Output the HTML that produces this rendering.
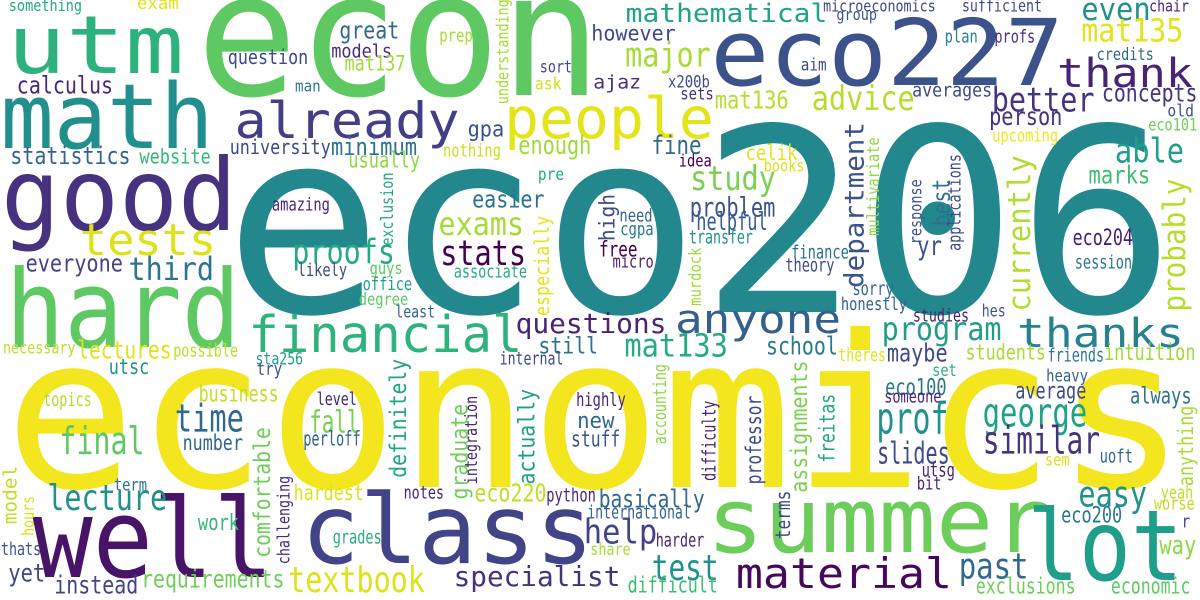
<!DOCTYPE html>
<html><head><meta charset="utf-8"><style>
html,body{margin:0;padding:0;background:#fff;}
svg{display:block;}
text{font-family:"DejaVu Sans Mono","Liberation Mono",monospace;}
</style></head><body>
<svg id="cloud" width="1200" height="600" viewBox="0 0 1200 600" xmlns="http://www.w3.org/2000/svg">
<rect width="1200" height="600" fill="#ffffff"/>
</svg>
<script>
// Big words, full coordinates: [text, x1, x2, baseline, fontSize, color]
const bigWords = [
["eco206",237,1163,312,256,"#22888d"],
["economics",15,1176,487,212,"#f4e61e"],
["econ",205,593,95,172,"#5ec962"],
["utm",11,180,73,80,"#2db27d"],
["math",5,209,148,90,"#21908d"],
["good",6,232,230,100,"#46327e"],
["already",237,457,138,50,"#433e85"],
["people",507,711,138,57,"#e5e419"],
["tests",82,214,255,44,"#dde318"],
["hard",11,235,347,108,"#5ec962"],
["financial",251,520,352,51,"#2eb37c"],
["questions",517,665,333,28,"#482475"],
["anyone",677,839,333,40,"#355f8d"],
["thanks",1019,1182,347,40,"#26828e"],
["thank",1059,1191,87,40,"#482475"],
["eco227",715,1059,85,92,"#3b528b"],
["mathematical",627,826,22,26,"#20a386"],
["well",38,268,577,110,"#481467"],
["class",306,589,563,96,"#414487"],
["summer",711,1046,552,90,"#6ccd5a"],
["lot",1032,1178,580,98,"#1f9e89"],
["material",738,950,588,42,"#46085c"],
["textbook",290,423,592,36,"#dde318"],
["specialist",455,619,586,28,"#46337f"]
];
// Horizontal words in zoom-quadrant units: [text, quadrant, zx1, zx2, zyBaseline, fontSize, color]
const smallWords = [
["something",0,25,212,33,16,"#23a983"],["exam",0,360,465,27,17,"#e2e418"],["great",0,890,1040,115,24,"#31688e"],
["models",0,868,1022,172,19,"#472c7a"],["question",0,598,803,192,20,"#3e4989"],["mat137",0,903,1057,212,21,"#a2da37"],
["prep",0,1150,1233,125,18,"#a8db34"],["sort",0,1413,1493,218,17,"#3e4a89"],["ask",0,1400,1465,268,17,"#d2e21b"],
["man",0,773,836,275,16,"#2a788e"],["calculus",0,47,292,280,24,"#482878"],["gpa",0,1225,1315,410,22,"#3b528b"],
["university",0,603,862,462,20,"#3e4a89"],["minimum",0,868,1087,465,24,"#2c718e"],["enough",0,1358,1542,462,26,"#a0da39"],
["nothing",0,1160,1307,470,18,"#c8e020"],["statistics",0,30,338,492,24,"#33638d"],["website",0,367,548,490,20,"#35b779"],
["usually",0,913,1095,503,22,"#8fd744"],["pre",0,1408,1472,540,17,"#22a884"],["amazing",0,713,860,632,18,"#482576"],
["easier",0,1237,1420,622,24,"#2c728e"],["exams",0,1150,1365,705,32,"#a5db36"],["proofs",0,768,1028,790,34,"#25ab82"],
["stats",0,1155,1370,795,35,"#440154"],["everyone",0,70,318,815,24,"#414487"],["third",0,340,555,840,32,"#2b748e"],
["likely",0,780,905,828,18,"#3e4989"],["guys",0,968,1050,822,17,"#5cc863"],["associate",0,1188,1375,832,18,"#27ad81"],
["office",0,950,1075,870,18,"#1f9f88"],
["microeconomics",1,585,875,35,16,"#3e4989"],["group",1,620,722,60,16,"#3b528b"],["sufficient",1,948,1153,35,17,"#3e4989"],
["even",1,1262,1435,60,31,"#20928c"],["chair",1,1437,1537,35,16,"#482475"],["however",1,-20,195,122,21,"#3e4989"],
["mat135",1,1262,1520,125,32,"#e2e418"],["plan",1,903,985,128,18,"#277f8e"],["profs",1,1033,1135,128,18,"#46307e"],
["major",1,70,285,200,34,"#a8db34"],["credits",1,1300,1445,180,17,"#33638d"],["aim",1,527,590,212,17,"#3e4989"],
["ajaz",1,-15,105,265,19,"#472d7b"],["x200b",1,180,285,262,17,"#3e4989"],["sets",1,212,295,298,17,"#472d7b"],
["averages",1,818,1022,290,19,"#3e4989"],["mat136",1,303,490,325,25,"#b5de2b"],["advice",1,558,818,330,34,"#b5de2b"],
["better",1,1028,1288,335,34,"#46337f"],["concepts",1,1315,1558,305,25,"#46337f"],["old",1,1485,1550,350,17,"#3b528b"],
["person",1,1020,1205,375,25,"#46337f"],["eco101",1,1435,1558,392,17,"#6ccd5a"],["upcoming",1,1027,1195,425,18,"#f4e61e"],
["fine",1,138,262,462,26,"#31688e"],["celik",1,383,513,480,21,"#e5e419"],["idea",1,208,290,500,17,"#440154"],
["books",1,430,532,515,17,"#dde318"],["study",1,240,455,570,34,"#7ad151"],["able",1,1350,1522,487,34,"#1f9e89"],
["marks",1,1280,1435,550,25,"#3dbc74"],["need",1,53,135,665,18,"#31688e"],["cgpa",1,55,138,705,18,"#2a788e"],
["free",1,0,95,770,21,"#440154"],["micro",1,35,138,802,18,"#482475"],["problem",1,238,455,650,27,"#3b528b"],
["helpful",1,255,435,690,25,"#365c8d"],["transfer",1,235,397,730,19,"#21918c"],["yr",1,832,890,765,27,"#3b528b"],
["finance",1,502,648,775,19,"#2c728e"],["theory",1,487,610,815,19,"#3e4989"],["sorry",1,662,765,885,19,"#31688e"],
["eco204",1,1238,1390,735,22,"#481f70"],["session",1,1243,1388,805,19,"#2a788e"],
["least",2,1035,1135,52,17,"#33638d"],["still",2,1410,1560,160,23,"#2c728e"],["necessary",2,10,195,160,17,"#bddf26"],
["lectures",2,205,445,175,25,"#dfe318"],["possible",2,455,620,170,18,"#bddf26"],["sta256",2,670,790,193,17,"#1f9e89"],
["internal",2,1308,1470,193,18,"#3e4989"],["utsc",2,287,387,222,21,"#21918c"],["try",2,673,735,225,18,"#3b528b"],
["topics",2,115,237,318,19,"#b5de2b"],["business",2,522,725,305,23,"#c2df23"],["level",2,830,930,315,18,"#482475"],
["time",2,462,632,395,38,"#31688e"],["fall",2,812,935,398,31,"#7ad151"],["final",2,160,373,462,38,"#5ec962"],
["number",2,480,632,450,21,"#33638d"],["perloff",2,795,940,437,20,"#33638d"],["term",2,300,382,572,17,"#2c728e"],
["lecture",2,128,432,630,36,"#21918c"],["hardest",2,770,948,600,21,"#dde318"],["notes",2,1057,1158,595,18,"#482475"],
["eco220",2,1243,1425,605,25,"#bddf26"],["python",2,1430,1555,605,19,"#482475"],["work",2,520,622,690,22,"#35b779"],
["grades",2,872,995,730,19,"#27ad81"],["thats",2,5,105,765,18,"#3b528b"],["yet",2,25,115,845,25,"#414487"],
["instead",2,145,358,880,25,"#414487"],["requirements",2,372,740,862,25,"#6ece58"],["degree",2,940,1065,15,17,"#5ec962"],
["honestly",3,632,800,30,18,"#33638d"],["hes",3,1000,1058,50,17,"#3b528b"],["studies",3,820,962,65,18,"#482475"],
["program",3,740,1045,120,32,"#1f9e89"],["mat133",3,68,330,170,32,"#25ab82"],["school",3,437,618,163,25,"#2a788e"],
["theres",3,625,745,183,18,"#e2e418"],["maybe",3,753,905,185,25,"#3e4989"],["students",3,958,1163,178,21,"#a8db34"],
["friends",3,1172,1315,185,19,"#2a788e"],["intuition",3,1320,1553,180,23,"#a0da39"],["set",3,870,930,228,17,"#2ab07f"],
["heavy",3,1168,1273,245,17,"#33638d"],["eco100",3,748,903,285,23,"#2a788e"],["someone",3,745,890,308,18,"#482475"],
["average",3,1088,1268,295,23,"#3e4989"],["always",3,1388,1543,310,23,"#2c728e"],["prof",3,728,905,400,44,"#21918c"],
["george",3,1005,1268,380,40,"#1fa187"],["similar",3,1005,1302,460,38,"#46337f"],["highly",3,-60,65,318,19,"#482475"],
["new",3,-57,35,384,22,"#31688e"],["stuff",3,-73,50,440,22,"#3b528b"],["slides",3,728,910,490,30,"#3e4989"],
["sem",3,1165,1225,497,17,"#dde318"],["uoft",3,1308,1390,488,19,"#33638d"],["utsg",3,843,925,530,19,"#482475"],
["bit",3,830,890,568,18,"#482475"],["basically",3,0,270,622,25,"#31688e"],["international",3,-31,235,655,19,"#33638d"],
["help",3,-38,145,730,34,"#414487"],["share",3,-23,78,765,17,"#a8db34"],["harder",3,148,270,740,19,"#482475"],
["test",3,140,305,840,36,"#21918c"],["difficult",3,75,305,878,22,"#3dbc74"],["past",3,942,1115,835,36,"#31688e"],
["exclusions",3,985,1240,880,22,"#6ece58"],["economic",3,1338,1540,880,22,"#5ec962"],["easy",3,1255,1425,620,36,"#21918c"],
["yeah",3,1468,1548,595,18,"#bddf26"],["worse",3,1450,1552,628,18,"#bddf26"],["eco200",3,1208,1362,668,22,"#2a788e"],
["r",3,1522,1540,682,18,"#3e4989"],["way",3,1465,1555,762,26,"#8fd744"]
];
// Vertical words: [text, quadrant, zx1, zx2, zyBottom, zyTop, fontSize, color]
const verticalWords = [
["understanding",0,1300,1335,310,0,17,"#a8db34"],["exclusion",0,1000,1030,735,520,17,"#21a685"],
["especially",0,1400,1440,945,650,20,"#e5e419"],
["department",1,640,700,860,370,27,"#3b528b"],["currently",1,1065,1140,930,470,31,"#b0dd2f"],
["probably",1,1480,1535,930,540,31,"#b5de2b"],["high",1,0,45,720,585,21,"#3e4989"],
["murdock",1,240,265,915,745,17,"#a0da39"],["multivariate",1,705,730,705,415,17,"#8fd744"],
["response",1,815,842,730,540,17,"#3b528b"],["best",1,875,920,675,540,25,"#2c728e"],
["applications",1,915,945,750,465,18,"#3e4989"],
["comfortable",2,670,710,770,385,23,"#6ece58"],["definitely",2,1025,1065,530,180,23,"#21a685"],
["graduate",2,1185,1225,595,315,23,"#6ece58"],["integration",2,1220,1248,550,290,17,"#482475"],
["actually",2,1360,1400,550,270,23,"#1fa187"],["model",2,12,48,670,500,19,"#bddf26"],
["hours",2,62,92,705,590,17,"#d8e219"],["challenging",2,730,760,790,530,17,"#482878"],
["accounting",3,145,175,430,195,18,"#8fd744"],["difficulty",3,272,305,540,305,19,"#481f70"],
["professor",3,388,425,550,290,21,"#3e4989"],["assignments",3,505,545,575,185,23,"#7ad151"],
["freitas",3,580,615,485,285,21,"#22a884"],["anything",3,1515,1555,555,320,21,"#a8db34"],
["terms",3,465,500,715,575,20,"#3e4989"]
];
const svg = document.getElementById('cloud');
const NS = 'http://www.w3.org/2000/svg';
const OFF = [[0,0],[600,0],[0,300],[600,300]];
const SX = 1568/600, SY = 3;
function fx(q,zx){return OFF[q][0] + zx/SX;}
function fy(q,zy){return OFF[q][1] + zy/SY;}
function slug(t){return 'word-' + t.replace(/[^a-z0-9]+/gi,'-').toLowerCase();}
function addH(t,x1,x2,y,fs,c){
  const el = document.createElementNS(NS,'text');
  
  
  el.setAttribute('x', (x1 - 0.05*fs).toFixed(1));
  el.setAttribute('y', y.toFixed(1));
  el.setAttribute('font-size', fs);
  el.setAttribute('fill', c);
  el.setAttribute('textLength', (x2 - x1 + 0.1*fs).toFixed(1));
  el.setAttribute('lengthAdjust', 'spacingAndGlyphs');
  el.textContent = t;
  svg.appendChild(el);
}
bigWords.forEach(w => addH(w[0], w[1], w[2], w[3], w[4], w[5]));
smallWords.forEach(w => addH(w[0], fx(w[1],w[2]), fx(w[1],w[3]), fy(w[1],w[4]), w[5], w[6]));
verticalWords.forEach(w => {
  const q = w[1], fs = w[6];
  const cx = (fx(q,w[2]) + fx(q,w[3]))/2;
  const bx = cx + 0.27*fs;
  const yb = fy(q,w[4]), yt = fy(q,w[5]);
  const el = document.createElementNS(NS,'text');
  
  
  el.setAttribute('x', 0);
  el.setAttribute('y', 0);
  el.setAttribute('font-size', fs);
  el.setAttribute('fill', w[7]);
  el.setAttribute('textLength', (yb - yt + 0.1*fs).toFixed(1));
  el.setAttribute('lengthAdjust', 'spacingAndGlyphs');
  el.setAttribute('transform', 'translate(' + bx.toFixed(1) + ',' + (yb + 0.05*fs).toFixed(1) + ') rotate(-90)');
  el.textContent = w[0];
  svg.appendChild(el);
});
</script>
</body></html>
